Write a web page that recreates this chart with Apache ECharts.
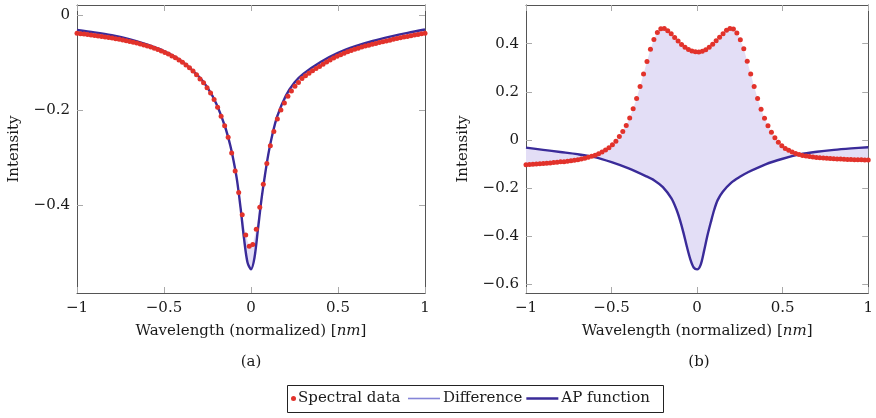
<!DOCTYPE html>
<html lang="en">
<head>
  <meta charset="UTF-8">
  <title>Spectral data vs AP function</title>
  <script src="https://cdn.jsdelivr.net/npm/echarts@6/dist/echarts.min.js"></script>
  <style>html, body { margin: 0; padding: 0; background: #fff; }</style>
</head>
<body>
  <div id="app" style="width: 876px; height: 418px;"></div>
  <script>
    // 100 evenly spaced sample wavelengths on [-1, 1]
    var wavelength = []
    for (var i = 0; i < 100; i++) wavelength.push(-1 + 2 * i / 99)

    // (a) measured spectrum
    var spectralA = [
      -0.0390, -0.0398, -0.0406, -0.0415, -0.0424, -0.0434, -0.0444, -0.0454, -0.0465, -0.0477,
      -0.0489, -0.0502, -0.0515, -0.0529, -0.0545, -0.0561, -0.0577, -0.0595, -0.0614, -0.0635,
      -0.0656, -0.0679, -0.0704, -0.0731, -0.0760, -0.0792, -0.0826, -0.0863, -0.0903, -0.0948,
      -0.0998, -0.1053, -0.1114, -0.1182, -0.1259, -0.1348, -0.1429, -0.153, -0.164, -0.178,
      -0.194, -0.213, -0.233, -0.257, -0.290, -0.328, -0.373, -0.420, -0.462, -0.486,
      -0.482, -0.450, -0.404, -0.356, -0.312, -0.275, -0.245, -0.219, -0.200, -0.185,
      -0.171, -0.160, -0.150, -0.142, -0.134, -0.128, -0.1225, -0.1176, -0.1130, -0.1087,
      -0.1039, -0.0991, -0.0948, -0.0907, -0.0871, -0.0837, -0.0806, -0.0776, -0.0750, -0.0724,
      -0.0701, -0.0678, -0.0658, -0.0638, -0.0620, -0.0601, -0.0582, -0.0565, -0.0549, -0.0533,
      -0.0516, -0.0499, -0.0484, -0.0469, -0.0455, -0.0440, -0.0426, -0.0412, -0.0400, -0.0388
    ]

    // (b) measured spectrum
    var spectralB = [
      -0.103, -0.102, -0.101, -0.100, -0.099, -0.098, -0.097, -0.096, -0.094, -0.093,
      -0.091, -0.090, -0.088, -0.086, -0.084, -0.082, -0.079, -0.076, -0.072, -0.068,
      -0.063, -0.057, -0.050, -0.042, -0.032, -0.020, -0.005, 0.014, 0.035, 0.060,
      0.091, 0.130, 0.172, 0.222, 0.274, 0.326, 0.377, 0.418, 0.447, 0.462,
      0.463, 0.454, 0.441, 0.426, 0.411, 0.397, 0.385, 0.376, 0.370, 0.367,
      0.366, 0.369, 0.375, 0.385, 0.398, 0.412, 0.427, 0.441, 0.456, 0.463,
      0.461, 0.445, 0.417, 0.379, 0.327, 0.274, 0.222, 0.172, 0.128, 0.090,
      0.059, 0.032, 0.009, -0.009, -0.024, -0.035, -0.043, -0.050, -0.056, -0.060,
      -0.064, -0.067, -0.069, -0.071, -0.073, -0.074, -0.075, -0.076, -0.077, -0.078,
      -0.079, -0.0795, -0.080, -0.081, -0.081, -0.082, -0.082, -0.0825, -0.083, -0.083
    ]

    // AP function curves
    var apX = [-1, -0.9, -0.8, -0.7, -0.6, -0.5, -0.4, -0.3, -0.25, -0.2, -0.15, -0.12, -0.1, -0.08, -0.06, -0.04, -0.02,
      0, 0.02, 0.04, 0.06, 0.08, 0.1, 0.12, 0.15, 0.2, 0.25, 0.3, 0.4, 0.5, 0.6, 0.7, 0.8, 0.9, 1]
    var apA = [-0.032, -0.037, -0.043, -0.051, -0.062, -0.076, -0.097, -0.130, -0.153, -0.186, -0.234, -0.273, -0.307, -0.348, -0.405, -0.470, -0.520,
      -0.534, -0.510, -0.450, -0.388, -0.337, -0.292, -0.256, -0.214, -0.170, -0.142, -0.124, -0.099, -0.080, -0.066, -0.055, -0.046, -0.038, -0.031]
    var apB = [-0.032, -0.041, -0.050, -0.059, -0.071, -0.092, -0.118, -0.150, -0.168, -0.196, -0.243, -0.290, -0.333, -0.385, -0.443, -0.495, -0.530,
      -0.538, -0.520, -0.463, -0.398, -0.342, -0.290, -0.250, -0.215, -0.177, -0.153, -0.133, -0.101, -0.078, -0.060, -0.049, -0.041, -0.035, -0.030]

    var xTicks = [-1, -0.5, 0, 0.5, 1]
    var yTicksA = [-0.4, -0.2, 0]
    var yTicksB = [-0.6, -0.4, -0.2, 0, 0.2, 0.4]

    var serif = "'DejaVu Serif', serif"
    var ink = '#1a1a1a'
    var frame = '#555'
    var tickColor = '#aaa'
    var red = '#e2322b'
    var indigo = '#3a2b99'
    var lavender = '#e3def6'

    function minus(v) { return String(v).replace('-', '\u2212') }
    function pairs(xs, ys) { return ys.map(function (y, k) { return [xs[k], y] }) }

    function xAxes(g) {
      var base = {
        type: 'value', gridIndex: g, min: -1, max: 1,
        axisLine: { show: true, onZero: false, lineStyle: { color: frame, width: 1 } },
        axisTick: { inside: true, length: 6, customValues: xTicks, lineStyle: { color: tickColor } },
        splitLine: { show: false }
      }
      return [
        Object.assign({}, base, {
          position: 'bottom',
          axisLabel: { customValues: xTicks, margin: 8, fontFamily: serif, fontSize: 15, color: ink, formatter: minus },
          name: '{r|Wavelength (normalized) [}{i|nm}{r|]}',
          nameLocation: 'middle', nameGap: 31,
          nameTextStyle: { rich: {
            r: { fontFamily: serif, fontSize: 15, color: ink },
            i: { fontFamily: serif, fontSize: 15, fontStyle: 'italic', color: ink }
          } }
        }),
        Object.assign({}, base, { position: 'top', axisLabel: { show: false } })
      ]
    }

    function yAxes(g, min, max, ticks) {
      var base = {
        type: 'value', gridIndex: g, min: min, max: max,
        axisLine: { show: true, onZero: false, lineStyle: { color: frame, width: 1 } },
        axisTick: { inside: true, length: 6, customValues: ticks, lineStyle: { color: tickColor } },
        splitLine: { show: false }
      }
      return [
        Object.assign({}, base, {
          position: 'left',
          axisLabel: { customValues: ticks, margin: 7, fontFamily: serif, fontSize: 15, color: ink, formatter: minus },
          name: 'Intensity', nameLocation: 'middle', nameGap: 55,
          nameTextStyle: { fontFamily: serif, fontSize: 15, color: ink }
        }),
        Object.assign({}, base, { position: 'right', axisLabel: { show: false } })
      ]
    }

    // filled region between the spectrum and the AP function
    function diffSeries(xi, yi, spec, ap) {
      return {
        type: 'custom', name: 'Difference', xAxisIndex: xi, yAxisIndex: yi,
        data: [[0, 0]], silent: true, clip: true, z: 1,
        renderItem: function (params, api) {
          var pts = []
          for (var k = 0; k < spec.length; k++) pts.push(api.coord([wavelength[k], spec[k]]))
          for (var m = ap.length - 1; m >= 0; m--) pts.push(api.coord([apX[m], ap[m]]))
          return { type: 'polygon', shape: { points: pts }, style: { fill: lavender, stroke: null } }
        }
      }
    }

    function apSeries(xi, yi, ap) {
      return {
        type: 'line', name: 'AP function', xAxisIndex: xi, yAxisIndex: yi,
        data: pairs(apX, ap), symbol: 'none', smooth: 0.3, z: 2,
        lineStyle: { color: indigo, width: 2.4 }, itemStyle: { color: indigo }
      }
    }

    function specSeries(xi, yi, spec) {
      return {
        type: 'scatter', name: 'Spectral data', xAxisIndex: xi, yAxisIndex: yi,
        data: pairs(wavelength, spec), symbolSize: 5, z: 3,
        itemStyle: { color: red, opacity: 1 }
      }
    }

    var mCharts = echarts.init(document.querySelector('#app'))
    var option = {
      animation: false,
      backgroundColor: '#fff',
      grid: [
        { left: 77, right: 451, top: 5, bottom: 125 },
        { left: 526, right: 4, top: 5, bottom: 125 }
      ],
      xAxis: xAxes(0).concat(xAxes(1)),
      yAxis: yAxes(0, -0.584, 0.0205, yTicksA).concat(yAxes(1, -0.636, 0.561, yTicksB)),
      legend: [
        {
          data: ['Spectral data'], left: 291, top: 391, itemWidth: 5, itemHeight: 5, selectedMode: false,
          textStyle: { fontFamily: serif, fontSize: 15, color: ink, padding: [0, 0, 0, -3] }, padding: 0
        },
        {
          data: [
            { name: 'Difference', icon: 'path://M0,0H32V1.6H0Z', itemStyle: { color: '#8585d8' } },
            { name: 'AP function', icon: 'path://M0,0H32V2.4H0Z', itemStyle: { color: indigo } }
          ],
          left: 408, top: 391, itemWidth: 32, itemHeight: 14, itemGap: 4, selectedMode: false,
          textStyle: { fontFamily: serif, fontSize: 15, color: ink, padding: [0, 0, 0, -2] }, padding: 0
        }
      ],
      graphic: [
        { type: 'rect', shape: { x: 287.5, y: 385.5, width: 376, height: 27 }, style: { fill: 'none', stroke: '#222', lineWidth: 1 } },
        { type: 'text', x: 251, y: 362, style: { text: '(a)', align: 'center', verticalAlign: 'middle', fontFamily: serif, fontSize: 15, fill: ink } },
        { type: 'text', x: 699, y: 362, style: { text: '(b)', align: 'center', verticalAlign: 'middle', fontFamily: serif, fontSize: 15, fill: ink } }
      ],
      series: [
        diffSeries(0, 0, spectralA, apA),
        diffSeries(2, 2, spectralB, apB),
        apSeries(0, 0, apA),
        apSeries(2, 2, apB),
        specSeries(0, 0, spectralA),
        specSeries(2, 2, spectralB)
      ]
    }
    mCharts.setOption(option)
  </script>
</body>
</html>
